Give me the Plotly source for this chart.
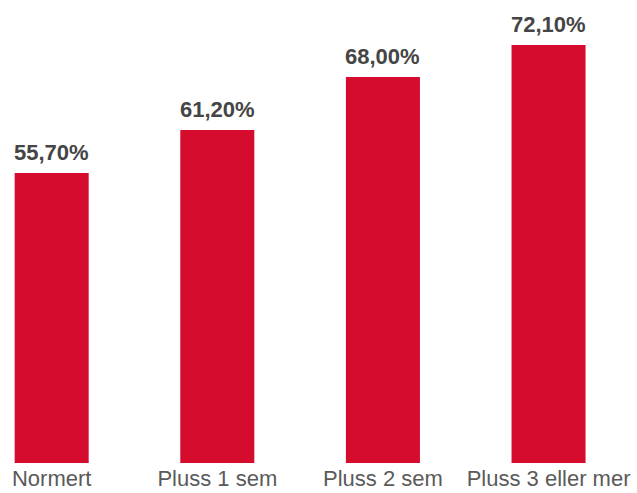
import plotly.graph_objects as go

categories = ["Normert", "Pluss 1 sem", "Pluss 2 sem", "Pluss 3 eller mer"]
values = [55.7, 61.2, 68.0, 72.1]
value_labels = ["55,70%", "61,20%", "68,00%", "72,10%"]

bar_color = "#D60C2E"
y_min = 18.54

fig = go.Figure()
fig.add_trace(go.Bar(
    x=list(range(len(categories))),
    y=[v - y_min for v in values],
    base=y_min,
    marker=dict(color=bar_color, line=dict(width=0)),
    width=0.447,
    hoverinfo="skip",
))

for i, (v, lab) in enumerate(zip(values, value_labels)):
    fig.add_annotation(
        x=i, y=v, text=f"<b>{lab}</b>", showarrow=False,
        yanchor="bottom", yshift=6,
        font=dict(family="Liberation Sans, Arial, sans-serif", size=22, color="#454545"),
    )

fig.update_layout(
    width=637, height=493,
    margin=dict(l=0, r=0, t=0, b=30),
    paper_bgcolor="white", plot_bgcolor="white",
    showlegend=False,
    xaxis=dict(
        range=[-0.312, 3.534],
        tickmode="array",
        tickvals=list(range(len(categories))),
        ticktext=categories,
        showgrid=False, zeroline=False, showline=False, ticks="",
        tickfont=dict(family="Liberation Sans, Arial, sans-serif", size=22, color="#5a5a5a"),
    ),
    yaxis=dict(
        range=[y_min, 77.86],
        visible=False,
    ),
)

fig.write_html("out.html")
